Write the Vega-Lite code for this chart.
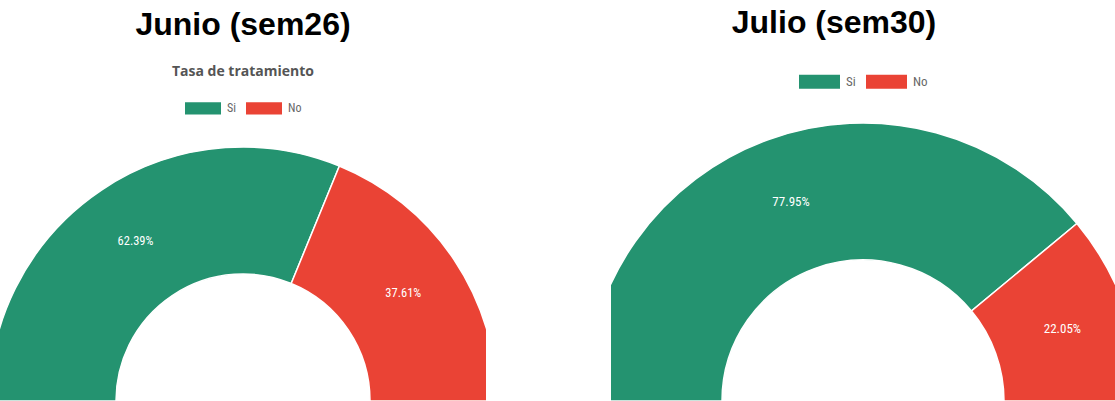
{
  "$schema": "https://vega.github.io/schema/vega-lite/v6.json",
  "padding": {"top": 7, "left": 0, "right": 0, "bottom": 0},
  "background": "white",
  "spacing": 125,
  "config": {
    "view": {"stroke": null},
    "title": {
      "font": "Liberation Sans",
      "fontSize": 32,
      "fontWeight": "bold",
      "color": "#000000",
      "anchor": "middle",
      "offset": 10,
      "subtitleFont": "Open Sans",
      "subtitleFontSize": 14,
      "subtitleFontWeight": "bold",
      "subtitleColor": "#555555",
      "subtitlePadding": 23
    },
    "legend": {
      "layout": {"top": {"anchor": "middle"}},
      "title": null,
      "orient": "top",
      "direction": "horizontal",
      "symbolType": "M-1,-0.34H1V0.34H-1Z",
      "symbolStrokeWidth": 0,
      "symbolOpacity": 1,
      "labelFont": "Liberation Sans Narrow, Roboto Condensed, Roboto",
      "labelColor": "#666666",
      "labelOffset": 6,
      "columnPadding": 10
    }
  },
  "hconcat": [
    {
      "width": 486,
      "height": 278,
      "title": {"text": "Junio (sem26)", "subtitle": "Tasa de tratamiento"},
      "data": {"values": [
        {"categoria": "Si", "valor": 0.6239},
        {"categoria": "No", "valor": 0.3761}
      ]},
      "encoding": {
        "theta": {"field": "valor", "type": "quantitative", "stack": true, "scale": {"domain": [0, 1], "range": [-1.5708, 1.5708]}},
        "order": {"field": "categoria", "sort": "descending"}
      },
      "layer": [
        {
          "mark": {"type": "arc", "radius": 254, "radius2": 127, "y": "height", "clip": true, "stroke": "white", "strokeWidth": 1.5},
          "encoding": {
            "color": {"field": "categoria", "type": "nominal", "scale": {"domain": ["Si", "No"], "range": ["#249370", "#EA4335"]},
              "legend": {"symbolSize": 1296, "labelFontSize": 12, "offset": 8}}
          }
        },
        {
          "mark": {"type": "text", "radius": 193, "y": "height", "fill": "white", "fontSize": 12.5, "font": "Liberation Sans Narrow, Roboto Condensed, Roboto"},
          "encoding": {
            "text": {"field": "valor", "type": "quantitative", "format": ".2%"}
          }
        }
      ]
    },
    {
      "width": 504,
      "height": 278,
      "title": {"text": "Julio (sem30)", "dx": -29, "offset": 21},
      "data": {"values": [
        {"categoria": "Si", "valor": 0.7795},
        {"categoria": "No", "valor": 0.2205}
      ]},
      "encoding": {
        "theta": {"field": "valor", "type": "quantitative", "stack": true, "scale": {"domain": [0, 1], "range": [-1.5708, 1.5708]}},
        "order": {"field": "categoria", "sort": "descending"}
      },
      "layer": [
        {
          "mark": {"type": "arc", "radius": 278, "radius2": 141, "y": "height", "clip": true, "stroke": "white", "strokeWidth": 1.5},
          "encoding": {
            "color": {"field": "categoria", "type": "nominal", "scale": {"domain": ["Si", "No"], "range": ["#249370", "#EA4335"]},
              "legend": {"symbolSize": 1681, "labelFontSize": 13, "offset": 34}}
          }
        },
        {
          "mark": {"type": "text", "radius": 212, "y": "height", "fill": "white", "fontSize": 13, "font": "Liberation Sans Narrow, Roboto Condensed, Roboto"},
          "encoding": {
            "text": {"field": "valor", "type": "quantitative", "format": ".2%"}
          }
        }
      ]
    }
  ],
  "resolve": {"scale": {"color": "independent", "theta": "independent"}, "legend": {"color": "independent"}}
}
